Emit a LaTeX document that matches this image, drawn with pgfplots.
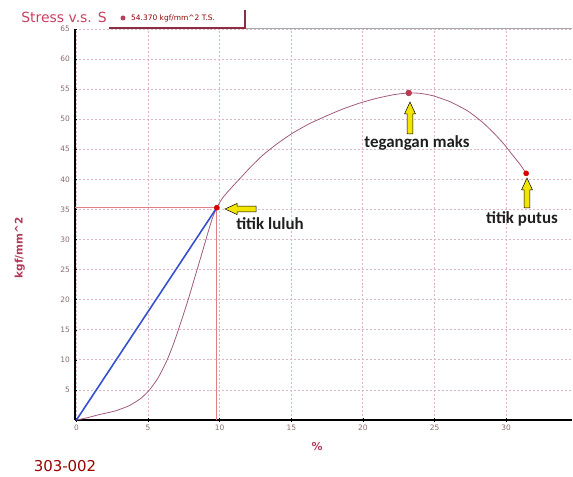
\documentclass[border=0pt]{standalone}
\usepackage{fontspec}
\setmainfont{DejaVu Sans}
\newfontfamily\calfont{Carlito}
\usepackage{pgfplots}
\pgfplotsset{compat=1.18}
\definecolor{curvec}{HTML}{A05A80}
\definecolor{gridc}{HTML}{DDB6C0}
\definecolor{refc}{HTML}{E07F86}
\definecolor{tickc}{HTML}{8A6A6A}
\definecolor{labc}{HTML}{B03A5A}
\definecolor{titc}{HTML}{C8405E}
\definecolor{bluec}{HTML}{3550D0}
\definecolor{yel}{HTML}{F2E600}
\pgfplotstableread{
x y
0 0
0.8 0.4
1.6 0.9
2.7 1.5
3.7 2.4
4.5 3.6
5.1 5.0
5.7 7.0
6.3 9.8
6.8 12.8
7.3 16.3
7.8 20.0
8.3 24.0
8.8 28.0
9.2 31.3
9.5 33.6
9.8 35.3
10.2 36.9
10.7 38.3
11.4 40.1
12.1 41.9
13.0 44.0
14.0 45.9
15.1 47.7
16.3 49.3
17.5 50.6
18.6 51.7
19.8 52.7
21.0 53.5
22.2 54.1
23.2 54.37
24.0 54.3
24.9 53.9
26.1 52.9
27.3 51.4
28.3 49.6
29.1 47.8
29.8 46.0
30.5 43.9
31.0 42.4
31.4 41.0
}\curvedata
\begin{document}
\begin{tikzpicture}
\useasboundingbox (0,0) rectangle (573bp,477bp);
\begin{axis}[
  at={(75bp,57bp)}, anchor=south west,
  scale only axis, width=497bp, height=391bp,
  xmin=-0.1, xmax=34.6, ymin=0, ymax=65,
  axis x line=bottom, axis y line=left,
  axis line style={-, line width=1.6pt, black},
  xtick={0,5,...,30}, ytick={5,10,...,65},
  minor x tick num=4, minor y tick num=4,
  major tick length=3bp, minor tick length=2bp,
  tick style={black, line width=0.5pt},
  grid=major,
  major grid style={gridc, line width=0.8pt, dash pattern=on 2pt off 2pt},
  /pgf/number format/assume math mode=true,
  ticklabel style={font=\fontsize{7.5}{8}\selectfont, text=tickc},
  xlabel={\%},
  xlabel style={at={(axis description cs:0.487,-0.069)}, anchor=center, font=\fontsize{11}{12}\selectfont\bfseries, text=labc},
  ylabel={kgf/mm\textasciicircum 2},
  ylabel style={at={(axis description cs:-0.111,0.44)}, anchor=center, font=\fontsize{10.5}{12}\selectfont\bfseries, text=labc},
  clip=false,
]
\addplot[refc, line width=0.7pt] coordinates {(-0.1,35.3) (9.8,35.3)};
\addplot[refc, line width=0.7pt] coordinates {(9.8,0) (9.8,35.3)};
\addplot[curvec, line width=0.8pt, smooth, tension=0.35] table[x=x,y=y] {\curvedata};
\addplot[bluec, line width=1.6pt] coordinates {(0,0) (9.8,35.3)};
\addplot[only marks, mark=*, mark size=2.6pt, color=red!85!black] coordinates {(9.8,35.3) (31.4,41.0)};
\addplot[only marks, mark=*, mark size=3pt, draw=curvec!80!black, fill=curvec!60!red] coordinates {(23.2,54.37)};
\end{axis}
% top line
\draw[gray!70, line width=1pt] (245bp,448bp) -- (572bp,448bp);
% title and legend tab
\node[anchor=center, text=titc, font=\fontsize{14}{15}\selectfont] at (64bp,460bp) {Stress v.s. S};
\draw[titc!70!black, line width=1.3pt] (109bp,449bp) -- (245bp,449bp) -- (245bp,467bp);
\fill[curvec!70!red] (123bp,459bp) circle (2.5bp);
\node[anchor=west, text=red!55!black, font=\fontsize{7.5}{8}\selectfont, inner sep=0pt] at (131bp,459bp) {54.370 kgf/mm\textasciicircum 2 T.S.};
% code
\node[anchor=center, text=red!60!black, font=\fontsize{15}{16}\selectfont] at (65bp,11bp) {303-002};
% arrows
\draw[fill=yel, draw=black, line width=0.5pt, shift={(225bp,268bp)}, rotate=90]
  (0,0) -- (5.5bp,-12bp) -- (2.8bp,-12bp) -- (2.8bp,-31bp) -- (-2.8bp,-31bp) -- (-2.8bp,-12bp) -- (-5.5bp,-12bp) -- cycle;
\draw[fill=yel, draw=black, line width=0.5pt, shift={(410bp,375bp)}]
  (0,0) -- (5.5bp,-12bp) -- (2.8bp,-12bp) -- (2.8bp,-32bp) -- (-2.8bp,-32bp) -- (-2.8bp,-12bp) -- (-5.5bp,-12bp) -- cycle;
\draw[fill=yel, draw=black, line width=0.5pt, shift={(527bp,299bp)}]
  (0,0) -- (5.5bp,-12bp) -- (2.8bp,-12bp) -- (2.8bp,-30bp) -- (-2.8bp,-30bp) -- (-2.8bp,-12bp) -- (-5.5bp,-12bp) -- cycle;
% annotation texts
\node[anchor=center, font=\calfont\bfseries\fontsize{17}{18}\selectfont, text=black!88] at (270bp,253bp) {titik luluh};
\node[anchor=center, font=\calfont\bfseries\fontsize{17}{18}\selectfont, text=black!88] at (417bp,334bp) {tegangan maks};
\node[anchor=center, font=\calfont\bfseries\fontsize{17}{18}\selectfont, text=black!88] at (522bp,258bp) {titik putus};
\end{tikzpicture}
\end{document}
